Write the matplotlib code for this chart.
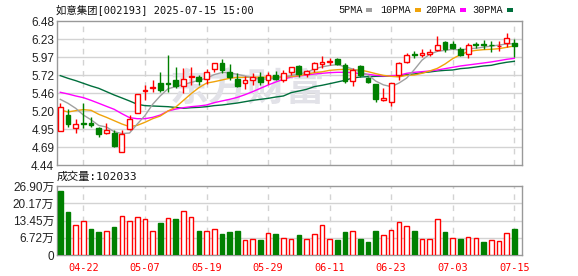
import matplotlib
matplotlib.use('Agg')
import matplotlib.pyplot as plt
from matplotlib.patches import Rectangle
import numpy as np

# ---------------- data ----------------
dates = ['04-17','04-18','04-21','04-22','04-23','04-24','04-25','04-28','04-29','04-30',
         '05-06','05-07','05-08','05-09','05-12','05-13','05-14','05-15','05-16','05-19',
         '05-20','05-21','05-22','05-23','05-26','05-27','05-28','05-29','05-30','06-03',
         '06-04','06-05','06-06','06-09','06-10','06-11','06-12','06-13','06-16','06-17',
         '06-18','06-19','06-20','06-23','06-24','06-25','06-26','06-27','06-30','07-01',
         '07-02','07-03','07-04','07-07','07-08','07-09','07-10','07-11','07-14','07-15']

opens = [4.92,5.15,4.97,5.03,5.035,4.97,4.90,4.89,4.62,4.955,
         5.17,5.49,5.53,5.605,5.595,5.645,5.56,5.69,5.68,5.665,
         5.795,5.885,5.755,5.66,5.595,5.65,5.69,5.64,5.71,5.645,
         5.755,5.84,5.725,5.795,5.875,5.90,5.94,5.85,5.635,5.84,
         5.675,5.59,5.36,5.335,5.71,5.895,6.01,5.995,6.015,6.075,
         6.18,6.155,6.085,6.015,6.15,6.15,6.145,6.12,6.165,6.17]
highs = [5.32,5.23,5.09,5.32,5.125,4.98,5.03,4.94,4.93,5.145,
         5.44,5.57,5.645,5.76,6.00,5.835,5.81,5.825,5.71,5.795,
         5.89,5.935,5.875,5.74,5.70,5.75,5.755,5.755,5.775,5.785,
         5.83,5.85,5.785,5.905,5.985,5.95,5.95,5.88,5.81,5.855,
         5.68,5.59,5.525,5.60,5.905,6.02,6.055,6.085,6.08,6.27,
         6.19,6.20,6.105,6.165,6.185,6.21,6.20,6.195,6.315,6.22]
lows = [4.92,4.98,4.90,4.97,4.975,4.83,4.885,4.695,4.62,4.94,
        5.17,5.36,5.48,5.48,5.48,5.525,5.455,5.57,5.575,5.59,
        5.755,5.74,5.645,5.55,5.515,5.58,5.58,5.585,5.64,5.62,
        5.715,5.69,5.69,5.755,5.82,5.855,5.855,5.595,5.565,5.69,
        5.595,5.335,5.345,5.275,5.645,5.89,5.96,5.975,5.98,6.06,
        6.035,6.09,5.99,5.96,6.10,6.09,6.035,6.055,6.115,5.975]
closes = [5.26,5.02,5.02,5.025,5.0,4.885,4.94,4.71,4.875,5.085,
          5.44,5.50,5.54,5.50,5.585,5.565,5.655,5.705,5.63,5.755,
          5.88,5.78,5.68,5.555,5.645,5.68,5.62,5.71,5.655,5.745,
          5.825,5.725,5.775,5.885,5.895,5.915,5.87,5.635,5.785,5.715,
          5.62,5.375,5.395,5.595,5.88,6.00,6.00,6.025,6.04,6.14,
          6.09,6.10,6.005,6.135,6.14,6.14,6.135,6.13,6.235,6.12]

ma5 = [5.37,5.314,5.243,5.148,5.08,5.0,4.978,4.912,4.885,4.893,
       5.02,5.14,5.30,5.42,5.52,5.55,5.58,5.61,5.64,5.67,
       5.72,5.75,5.745,5.725,5.70,5.675,5.655,5.66,5.67,5.685,
       5.708,5.728,5.752,5.80,5.83,5.85,5.862,5.832,5.80,5.76,
       5.715,5.628,5.575,5.55,5.60,5.67,5.79,5.925,6.01,6.05,
       6.064,6.079,6.068,6.087,6.094,6.11,6.125,6.138,6.155,6.158]
ma10 = [5.219,5.191,5.21,5.224,5.215,5.158,5.115,5.068,5.021,4.983,
        5.002,5.045,5.096,5.134,5.205,5.26,5.355,5.45,5.535,5.60,
        5.62,5.644,5.668,5.682,5.682,5.684,5.684,5.685,5.687,5.688,
        5.692,5.706,5.725,5.748,5.76,5.781,5.79,5.795,5.79,5.785,
        5.762,5.734,5.71,5.696,5.688,5.71,5.715,5.739,5.772,5.809,
        5.871,5.947,6.003,6.046,6.064,6.074,6.079,6.088,6.107,6.126]
ma20 = [5.47,5.446,5.418,5.394,5.356,5.314,5.271,5.229,5.167,5.111,
        5.096,5.096,5.115,5.148,5.205,5.232,5.252,5.266,5.276,5.29,
        5.323,5.347,5.37,5.398,5.436,5.479,5.526,5.573,5.616,5.654,
        5.687,5.701,5.715,5.729,5.739,5.748,5.753,5.753,5.748,5.734,
        5.725,5.71,5.701,5.706,5.71,5.739,5.753,5.762,5.772,5.786,
        5.805,5.824,5.843,5.857,5.871,5.885,5.90,5.918,5.937,5.951]
ma30 = [5.706,5.668,5.635,5.597,5.559,5.526,5.479,5.432,5.39,5.347,
        5.30,5.281,5.276,5.271,5.266,5.255,5.243,5.252,5.257,5.266,
        5.281,5.29,5.304,5.318,5.337,5.356,5.37,5.384,5.403,5.418,
        5.465,5.488,5.512,5.55,5.569,5.592,5.616,5.64,5.673,5.687,
        5.691,5.696,5.696,5.701,5.701,5.72,5.729,5.748,5.758,5.772,
        5.781,5.786,5.805,5.814,5.828,5.843,5.852,5.876,5.895,5.909]

volumes = [24.96,16.77,11.57,13.13,10.14,8.97,9.23,10.92,15.08,13.13,
           14.69,13.91,9.23,12.48,14.3,14.17,17.03,14.69,9.36,9.36,
           10.14,8.19,8.97,9.36,5.85,6.24,5.85,8.45,8.19,6.63,
           6.24,7.8,6.24,8.19,11.7,6.24,5.85,8.97,9.36,6.24,
           5.07,9.36,7.8,9.75,12.87,11.31,9.36,6.24,6.24,14.04,
           8.97,6.63,6.24,7.02,6.63,5.07,5.85,5.46,8.58,10.20]
vol_up = [0,0,1,1,0,0,1,0,1,1, 1,1,1,0,1,0,1,1,0,1,
          1,0,0,0,1,1,0,1,0,1, 1,0,1,1,1,1,0,0,1,0,
          0,0,1,1,1,1,0,1,1,1, 0,1,0,1,1,0,1,1,1,0]

price_tick_labels = ['4.44','4.69','4.95','5.20','5.46','5.72','5.97','6.23','6.48']
vol_tick_labels = ['0','6.72万','13.45万','20.17万','26.90万']
date_ticks = ['04-22','05-07','05-19','05-29','06-11','06-23','07-03','07-15']
title_text = '如意集团[002193] 2025-07-15 15:00'
vol_title = '成交量:102033'
ma_names = ['5PMA','10PMA','20PMA','30PMA']

# ---------------- style ----------------
RED = '#ff0000'
GREEN = '#008000'
MA_COLORS = ['#a0a0a0', '#f0a30a', '#ff00ff', '#006f3c']
GRID = '#d3d3d3'
SPINE = '#999999'
LABEL_FONT = ['Liberation Sans', 'Noto Sans CJK SC']
MONO_CJK = ['DejaVu Sans Mono', 'Noto Sans CJK SC']

fig = plt.figure(figsize=(5.78, 2.76), dpi=100)
fig.patch.set_facecolor('white')

W, H = 578.0, 276.0
def fx(px): return px / W
def fy(py): return 1 - py / H

ax = fig.add_axes([fx(57), fy(165), fx(522) - fx(57), fy(21) - fy(165)])
axv = fig.add_axes([fx(57), fy(255), fx(522) - fx(57), fy(186) - fy(255)])

n = len(dates)
x = np.arange(n)
xlim = (-0.43, n - 0.0)
date_pos = [dates.index(d) for d in date_ticks]

# ---------------- price panel ----------------
pmin, pmax = 4.44, 6.48
ax.set_xlim(*xlim)
ax.set_ylim(pmin, pmax)
pticks = np.linspace(pmin, pmax, len(price_tick_labels))
for t in pticks[1:-1]:
    ax.axhline(t, color=GRID, lw=1, zorder=0)
for p in date_pos:
    ax.axvline(p, color=GRID, lw=1, ls=(0, (4, 4)), zorder=0)

ax.text(0.41, 0.52, '东方财富', transform=ax.transAxes, fontsize=28,
        fontweight='bold', color='#e2e2e8', ha='center', va='center',
        family=['Noto Sans CJK SC'], zorder=0.5, style='italic')

for ma, col in zip([ma30, ma20, ma10, ma5], MA_COLORS[::-1]):
    ax.plot(x, ma, color=col, lw=1.0, zorder=2)

bw = 0.62
for i in range(n):
    o, h, l, c = opens[i], highs[i], lows[i], closes[i]
    up = c > o
    col = RED if up else GREEN
    ax.vlines(i, l, h, color=col, lw=1, zorder=3)
    bottom = min(o, c)
    height = max(abs(c - o), 0.004)
    ax.add_patch(Rectangle((i - bw / 2, bottom), bw, height,
                           facecolor='white' if up else GREEN,
                           edgecolor=col, lw=1, zorder=4))

ax.set_yticks(pticks)
ax.set_yticklabels(price_tick_labels)
ax.set_xticks([])
ax.tick_params(axis='y', length=0, pad=2, labelsize=8.5, labelcolor='#222222')
for t in ax.get_yticklabels():
    t.set_fontfamily(LABEL_FONT)
for s in ax.spines.values():
    s.set_color(SPINE)
    s.set_linewidth(1)

# ---------------- volume panel ----------------
vmax = 26.90
axv.set_xlim(*xlim)
axv.set_ylim(0, vmax)
vticks = np.linspace(0, vmax, len(vol_tick_labels))
for t in vticks[1:-1]:
    axv.axhline(t, color=GRID, lw=1, zorder=0)
for p in date_pos:
    axv.axvline(p, color=GRID, lw=1, ls=(0, (4, 4)), zorder=0)
vface = ['white' if u else GREEN for u in vol_up]
vedge = [RED if u else GREEN for u in vol_up]
axv.bar(x, volumes, width=0.6, color=vface, edgecolor=vedge, lw=1, zorder=3)
axv.set_yticks(vticks)
axv.set_yticklabels(vol_tick_labels)
axv.set_xticks(date_pos)
axv.set_xticklabels(date_ticks)
axv.tick_params(axis='y', length=0, pad=2, labelsize=8.5, labelcolor='#222222')
axv.tick_params(axis='x', length=0, pad=6, labelsize=7.4, labelcolor=RED)
for t in axv.get_yticklabels():
    t.set_fontfamily(LABEL_FONT)
for t in axv.get_xticklabels():
    t.set_fontfamily(['DejaVu Sans Mono'])
for s in axv.spines.values():
    s.set_color(SPINE)
    s.set_linewidth(1)

# ---------------- texts ----------------
fig.text(fx(56), fy(10), title_text, fontsize=7.5, family=MONO_CJK,
         ha='left', va='center', color='#111111')
fig.text(fx(57), fy(177), vol_title, fontsize=8, family=MONO_CJK,
         ha='left', va='center', color='#111111')

leg_text_x = [338, 380, 425, 472]
for name, col, tx in zip(ma_names, MA_COLORS, leg_text_x):
    fig.text(fx(tx), fy(10), name, fontsize=7.3, family=['Liberation Mono'],
             ha='left', va='center', color='#111111')
    sw_x = tx + 6.1 * len(name) + 4
    fig.patches.append(Rectangle((fx(sw_x), fy(12)), fx(6), fy(8) - fy(12),
                                 transform=fig.transFigure, facecolor=col,
                                 edgecolor='none'))

fig.savefig('out.png', dpi=100)
